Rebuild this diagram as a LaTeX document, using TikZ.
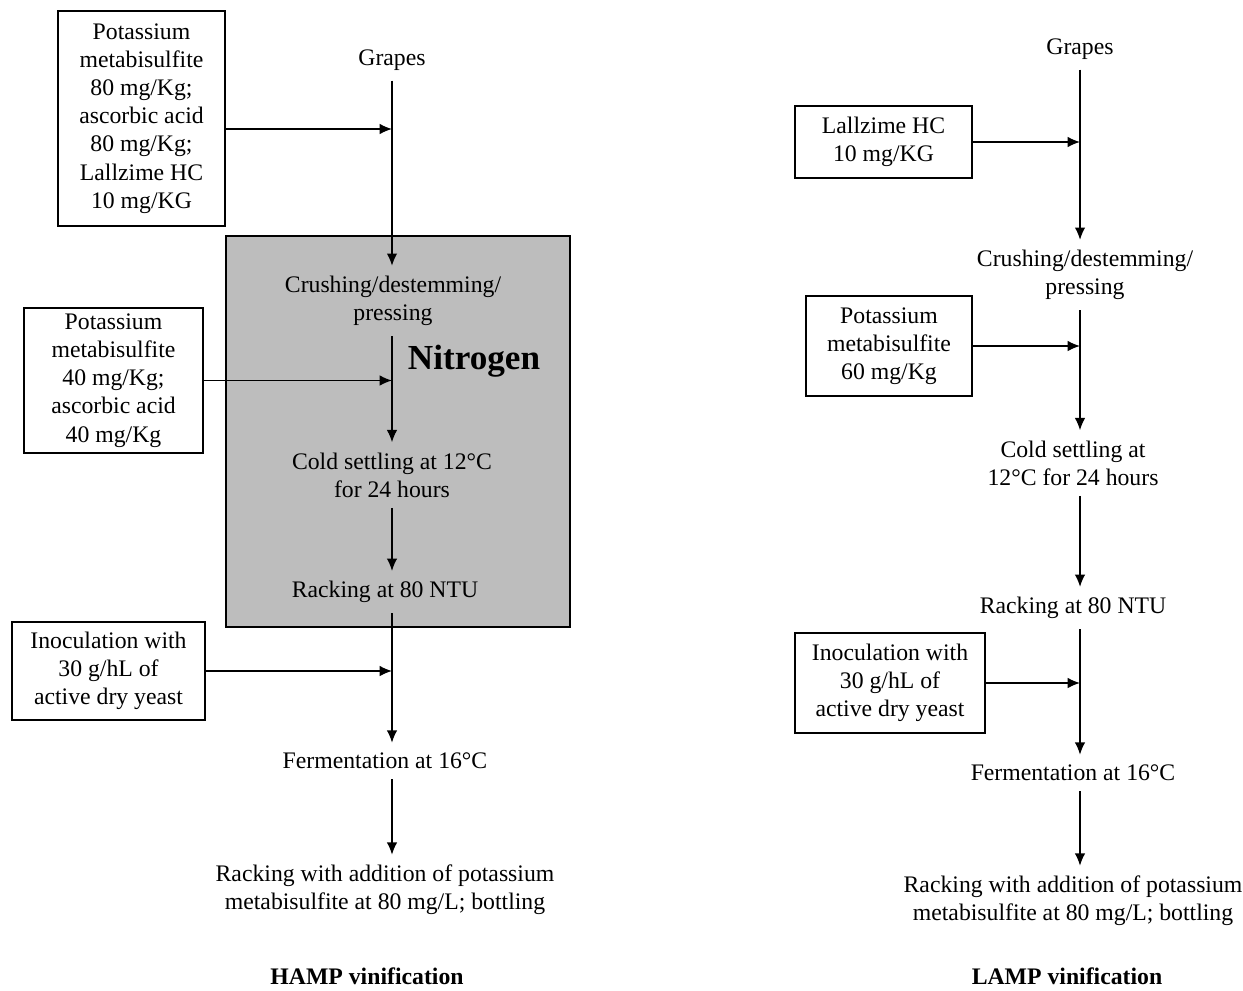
\documentclass[tikz,border=0pt]{standalone}
\usepackage{fontspec}
\setmainfont{Liberation Serif}
\usepackage{tikz}
\usetikzlibrary{shapes.geometric, arrows, arrows.meta}
\definecolor{NITRO}{HTML}{BDBDBD}
\newcommand{\flowfont}{\fontsize{13.5pt}{16pt}\selectfont}
\tikzstyle{additive} = [rectangle, draw=black, line width=0.8pt, fill=white, align=center, font=\flowfont, inner sep=2pt]
\tikzstyle{stage} = [align=center, font=\flowfont, inner sep=0.2cm]
\tikzstyle{nitro} = [rectangle, draw=black, line width=0.9pt, fill=NITRO]
\tikzstyle{title} = [font=\flowfont\bfseries]
\tikzstyle{arrow} = [line width=0.8pt,->,>={Latex[length=7pt,width=6pt]}]

\begin{document}
\begin{tikzpicture}[node distance=2cm]
\useasboundingbox (0,0) rectangle (24.86,-19.8);

% HAMP vinification
\node (nbox) [nitro, minimum width=6.88cm, minimum height=7.82cm] at (7.96,-8.63) {};

\node (in1) [stage] at (7.84,-1.2) {Grapes};
\node (pro1) [stage] at (7.86,-6.02) {Crushing/destemming/\\pressing};
\node (gas) [font=\fontsize{20pt}{24pt}\selectfont\bfseries] at (9.48,-7.22) {Nitrogen};
\node (pro2) [stage] at (7.84,-9.5) {Cold settling at 12°C\\for 24 hours};
\node (pro3) [stage] at (7.70,-11.84) {Racking at 80 NTU};
\node (pro4) [stage] at (7.70,-15.22) {Fermentation at 16°C};
\node (out1) [stage] at (7.70,-17.8) {Racking with addition of potassium\\metabisulfite at 80 mg/L; bottling};
\node (tit1) [title] at (7.34,-19.52) {HAMP vinification};

\node (add1) [additive, minimum width=3.34cm, minimum height=4.3cm] at (2.83,-2.37) {Potassium\\metabisulfite\\80 mg/Kg;\\ascorbic acid\\80 mg/Kg;\\Lallzime HC\\10 mg/KG};
\node (add2) [additive, minimum width=3.58cm, minimum height=2.9cm] at (2.27,-7.61) {Potassium\\metabisulfite\\40 mg/Kg;\\ascorbic acid\\40 mg/Kg};
\node (add3) [additive, minimum width=3.86cm, minimum height=1.96cm] at (2.17,-13.42) {Inoculation with\\30 g/hL of\\active dry yeast};

\coordinate (j1) at ([yshift=-0.21cm]add1.east);

\draw [arrow] (in1) -- (in1 |- pro1.north);
\draw [arrow] (j1) -- (j1 -| in1);
\draw [arrow] (in1 |- pro1.south) -- (in1 |- pro2.north);
\draw [arrow] (add2.east) -- (add2.east -| in1);
\draw [arrow] (in1 |- pro2.south) -- (in1 |- pro3.north);
\draw [arrow] (in1 |- pro3.south) -- (in1 |- pro4.north);
\draw [arrow] (add3.east) -- (add3.east -| in1);
\draw [arrow] (in1 |- pro4.south) -- (in1 |- out1.north);

% LAMP vinification
\node (in2) [stage] at (21.6,-0.98) {Grapes};
\node (pro5) [stage] at (21.7,-5.5) {Crushing/destemming/\\pressing};
\node (pro6) [stage] at (21.46,-9.26) {Cold settling at\\12°C for 24 hours};
\node (pro7) [stage] at (21.46,-12.16) {Racking at 80 NTU};
\node (pro8) [stage] at (21.46,-15.46) {Fermentation at 16°C};
\node (out2) [stage] at (21.46,-18.02) {Racking with addition of potassium\\metabisulfite at 80 mg/L; bottling};
\node (tit2) [title] at (21.34,-19.52) {LAMP vinification};

\node (add4) [additive, minimum width=3.54cm, minimum height=1.44cm] at (17.67,-2.84) {Lallzime HC\\10 mg/KG};
\node (add5) [additive, minimum width=3.32cm, minimum height=2.0cm] at (17.78,-6.92) {Potassium\\metabisulfite\\60 mg/Kg};
\node (add6) [additive, minimum width=3.8cm, minimum height=2.0cm] at (17.8,-13.66) {Inoculation with\\30 g/hL of\\active dry yeast};

\draw [arrow] (in2) -- (in2 |- pro5.north);
\draw [arrow] (add4.east) -- (add4.east -| in2);
\draw [arrow] (in2 |- pro5.south) -- (in2 |- pro6.north);
\draw [arrow] (add5.east) -- (add5.east -| in2);
\draw [arrow] (in2 |- pro6.south) -- (in2 |- pro7.north);
\draw [arrow] (in2 |- pro7.south) -- (in2 |- pro8.north);
\draw [arrow] (add6.east) -- (add6.east -| in2);
\draw [arrow] (in2 |- pro8.south) -- (in2 |- out2.north);

\end{tikzpicture}
\end{document}
